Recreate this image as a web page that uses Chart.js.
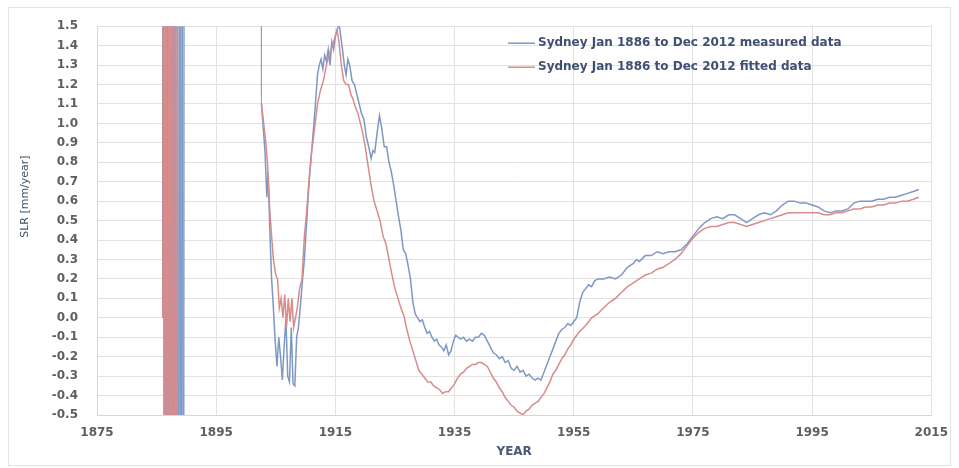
<!DOCTYPE html>
<html>
<head>
<meta charset="utf-8">
<script src="https://cdn.jsdelivr.net/npm/chart.js@4.4.1/dist/chart.umd.min.js"></script>
<style>
  html, body { margin: 0; padding: 0; background: #ffffff; }
  #wrap { position: relative; width: 959px; height: 468px; }
  canvas { display: block; }
</style>
</head>
<body>
<div id="wrap"><canvas id="c" width="959" height="468"></canvas></div>
<script>
// ---- Data ----
const seriesLabels = [
  'Sydney Jan 1886 to Dec 2012 measured data',
  'Sydney Jan 1886 to Dec 2012 fitted data'
];
const yAxisTitle = 'SLR [mm/year]';
const xAxisTitle = 'YEAR';
const xTickYears = [1875, 1895, 1915, 1935, 1955, 1975, 1995, 2015];

// [year, SLR mm/year]; null = no data (gap). Early values are far off-scale.
const measuredSeries = [
  [1886.0, 0.0], [1886.1, 8], [1886.3, -8], [1886.5, 8], [1886.7, -8], [1886.9, 8], [1887.1, -8],
  [1887.3, 8], [1887.5, -8], [1887.7, 8], [1887.9, -8], [1888.1, 8], [1888.3, -8], [1888.5, 8],
  [1888.7, -8], [1888.9, 8], [1889.1, -8], [1889.3, 8], [1889.5, -8], [1889.7, 8],
  [1895.0, null],
  [1902.45, 6], [1902.6, 1.1], [1903.2, 0.85], [1903.5, 0.62], [1903.7, 0.75], [1904.0, 0.45], [1904.3, 0.2],
  [1904.6, 0.05], [1904.9, -0.12], [1905.2, -0.25], [1905.5, -0.1], [1905.8, -0.2], [1906.1, -0.32],
  [1906.4, -0.15], [1906.7, 0.0], [1907.0, -0.3], [1907.3, -0.33], [1907.6, -0.05], [1907.9, -0.34],
  [1908.2, -0.35], [1908.5, -0.1], [1908.8, -0.05], [1909.1, 0.05], [1909.5, 0.2], [1909.8, 0.3],
  [1910.2, 0.5], [1910.6, 0.7], [1911.0, 0.85], [1911.4, 1.0], [1911.7, 1.12], [1912.0, 1.25],
  [1912.3, 1.3], [1912.6, 1.33], [1912.9, 1.28], [1913.2, 1.35], [1913.5, 1.32], [1913.8, 1.38],
  [1914.1, 1.3], [1914.4, 1.42], [1914.7, 1.38], [1915.0, 1.45], [1915.3, 1.48], [1915.6, 1.52],
  [1915.9, 1.45], [1916.2, 1.38], [1916.5, 1.3], [1916.8, 1.25], [1917.1, 1.33], [1917.4, 1.3],
  [1917.8, 1.22], [1918.2, 1.2], [1918.6, 1.15], [1919.0, 1.1], [1919.4, 1.05], [1919.8, 1.02],
  [1920.2, 0.93], [1920.6, 0.88], [1921.0, 0.82], [1921.3, 0.86], [1921.6, 0.85], [1922.0, 0.95],
  [1922.4, 1.04], [1922.8, 0.97], [1923.2, 0.88], [1923.6, 0.88], [1924.0, 0.8], [1924.4, 0.75],
  [1924.8, 0.68], [1925.2, 0.6], [1925.6, 0.52], [1926.0, 0.45], [1926.4, 0.35], [1926.8, 0.33],
  [1927.2, 0.27], [1927.6, 0.2], [1928.0, 0.08], [1928.4, 0.02], [1928.8, 0.0], [1929.2, -0.02],
  [1929.6, -0.01], [1930.0, -0.05], [1930.4, -0.08], [1930.8, -0.07], [1931.2, -0.1], [1931.6, -0.12],
  [1932.0, -0.11], [1932.4, -0.14], [1932.8, -0.15], [1933.2, -0.17], [1933.6, -0.14], [1934.0, -0.19],
  [1934.4, -0.17], [1934.8, -0.12], [1935.2, -0.09], [1935.6, -0.1], [1936.0, -0.11], [1936.5, -0.1],
  [1937.0, -0.12], [1937.5, -0.11], [1938.0, -0.12], [1938.5, -0.1], [1939.0, -0.1], [1939.5, -0.08],
  [1940.0, -0.09], [1940.5, -0.12], [1941.0, -0.15], [1941.5, -0.18], [1942.0, -0.19], [1942.5, -0.21],
  [1943.0, -0.2], [1943.5, -0.23], [1944.0, -0.22], [1944.5, -0.26], [1945.0, -0.27], [1945.5, -0.25],
  [1946.0, -0.28], [1946.5, -0.27], [1947.0, -0.3], [1947.5, -0.29], [1948.0, -0.31], [1948.5, -0.32],
  [1949.0, -0.31], [1949.5, -0.32], [1950.0, -0.28], [1950.5, -0.24], [1951.0, -0.2], [1951.5, -0.16],
  [1952.0, -0.12], [1952.5, -0.08], [1953.0, -0.06], [1953.5, -0.05], [1954.0, -0.03], [1954.5, -0.04],
  [1955.0, -0.02], [1955.5, 0.0], [1956.0, 0.08], [1956.5, 0.13], [1957.0, 0.15], [1957.5, 0.17],
  [1958.0, 0.16], [1958.5, 0.19], [1959.0, 0.2], [1960.0, 0.2], [1961.0, 0.21], [1962.0, 0.2],
  [1963.0, 0.22], [1964.0, 0.26], [1965.0, 0.28], [1965.5, 0.3], [1966.0, 0.29], [1967.0, 0.32],
  [1968.0, 0.32], [1969.0, 0.34], [1970.0, 0.33], [1971.0, 0.34], [1972.0, 0.34], [1973.0, 0.35],
  [1974.0, 0.38], [1975.0, 0.42], [1976.0, 0.46], [1977.0, 0.49], [1978.0, 0.51], [1979.0, 0.52],
  [1980.0, 0.51], [1981.0, 0.53], [1982.0, 0.53], [1983.0, 0.51], [1984.0, 0.49], [1985.0, 0.51],
  [1986.0, 0.53], [1987.0, 0.54], [1988.0, 0.53], [1989.0, 0.55], [1990.0, 0.58], [1991.0, 0.6],
  [1992.0, 0.6], [1993.0, 0.59], [1994.0, 0.59], [1995.0, 0.58], [1996.0, 0.57], [1997.0, 0.55],
  [1998.0, 0.54], [1999.0, 0.55], [2000.0, 0.55], [2001.0, 0.56], [2002.0, 0.59], [2003.0, 0.6],
  [2004.0, 0.6], [2005.0, 0.6], [2006.0, 0.61], [2007.0, 0.61], [2008.0, 0.62], [2009.0, 0.62],
  [2010.0, 0.63], [2011.0, 0.64], [2012.0, 0.65], [2012.9, 0.66]
];

const fittedSeries = [
  [1886.0, 0.0], [1886.2, 8], [1886.4, -8], [1886.6, 8], [1886.8, -8], [1887.0, 8], [1887.2, -8],
  [1887.4, 8], [1887.6, -8], [1887.8, 8], [1888.0, -8], [1888.2, 8], [1888.4, -8], [1888.6, 8],
  [1895.0, null],
  [1902.45, 6], [1902.6, 1.1], [1903.3, 0.91], [1903.6, 0.8], [1904.0, 0.55], [1904.3, 0.42], [1904.6, 0.3],
  [1905.0, 0.22], [1905.3, 0.2], [1905.6, 0.05], [1905.9, 0.1], [1906.2, 0.0], [1906.5, 0.12],
  [1906.8, -0.05], [1907.1, 0.1], [1907.4, -0.02], [1907.7, 0.1], [1908.0, -0.05], [1908.3, 0.0],
  [1908.6, 0.05], [1909.0, 0.15], [1909.4, 0.2], [1909.8, 0.42], [1910.2, 0.55], [1910.6, 0.72],
  [1911.0, 0.85], [1911.5, 0.97], [1912.0, 1.1], [1912.5, 1.17], [1913.0, 1.22], [1913.5, 1.3],
  [1914.0, 1.36], [1914.5, 1.4], [1915.0, 1.45], [1915.3, 1.48], [1915.6, 1.42], [1916.0, 1.3],
  [1916.4, 1.22], [1916.8, 1.2], [1917.2, 1.2], [1917.6, 1.15], [1918.0, 1.12], [1918.4, 1.08],
  [1918.8, 1.05], [1919.2, 1.0], [1919.6, 0.95], [1920.0, 0.88], [1920.5, 0.78], [1921.0, 0.68],
  [1921.5, 0.6], [1922.0, 0.55], [1922.5, 0.5], [1923.0, 0.42], [1923.5, 0.38], [1924.0, 0.3],
  [1924.5, 0.22], [1925.0, 0.15], [1925.5, 0.1], [1926.0, 0.05], [1926.5, 0.01], [1927.0, -0.06],
  [1927.5, -0.12], [1928.0, -0.17], [1928.5, -0.22], [1929.0, -0.27], [1929.5, -0.29], [1930.0, -0.31],
  [1930.5, -0.33], [1931.0, -0.33], [1931.5, -0.35], [1932.0, -0.36], [1932.5, -0.37], [1933.0, -0.39],
  [1933.5, -0.38], [1934.0, -0.38], [1934.5, -0.36], [1935.0, -0.34], [1935.5, -0.31], [1936.0, -0.29],
  [1936.5, -0.28], [1937.0, -0.26], [1937.5, -0.25], [1938.0, -0.24], [1938.5, -0.24], [1939.0, -0.23],
  [1939.5, -0.23], [1940.0, -0.24], [1940.5, -0.25], [1941.0, -0.28], [1941.5, -0.31], [1942.0, -0.33],
  [1942.5, -0.36], [1943.0, -0.38], [1943.5, -0.41], [1944.0, -0.43], [1944.5, -0.45], [1945.0, -0.46],
  [1945.5, -0.48], [1946.0, -0.49], [1946.5, -0.5], [1947.0, -0.48], [1947.5, -0.47], [1948.0, -0.45],
  [1948.5, -0.44], [1949.0, -0.43], [1949.5, -0.41], [1950.0, -0.39], [1950.5, -0.36], [1951.0, -0.33],
  [1951.5, -0.29], [1952.0, -0.27], [1952.5, -0.24], [1953.0, -0.21], [1953.5, -0.19], [1954.0, -0.16],
  [1954.5, -0.14], [1955.0, -0.11], [1955.5, -0.09], [1956.0, -0.07], [1957.0, -0.04], [1958.0, 0.0],
  [1959.0, 0.02], [1960.0, 0.05], [1961.0, 0.08], [1962.0, 0.1], [1963.0, 0.13], [1964.0, 0.16],
  [1965.0, 0.18], [1966.0, 0.2], [1967.0, 0.22], [1968.0, 0.23], [1969.0, 0.25], [1970.0, 0.26],
  [1971.0, 0.28], [1972.0, 0.3], [1973.0, 0.33], [1974.0, 0.37], [1975.0, 0.41], [1976.0, 0.44],
  [1977.0, 0.46], [1978.0, 0.47], [1979.0, 0.47], [1980.0, 0.48], [1981.0, 0.49], [1982.0, 0.49],
  [1983.0, 0.48], [1984.0, 0.47], [1985.0, 0.48], [1986.0, 0.49], [1987.0, 0.5], [1988.0, 0.51],
  [1989.0, 0.52], [1990.0, 0.53], [1991.0, 0.54], [1992.0, 0.54], [1993.0, 0.54], [1994.0, 0.54],
  [1995.0, 0.54], [1996.0, 0.54], [1997.0, 0.53], [1998.0, 0.53], [1999.0, 0.54], [2000.0, 0.54],
  [2001.0, 0.55], [2002.0, 0.56], [2003.0, 0.56], [2004.0, 0.57], [2005.0, 0.57], [2006.0, 0.58],
  [2007.0, 0.58], [2008.0, 0.59], [2009.0, 0.59], [2010.0, 0.6], [2011.0, 0.6], [2012.0, 0.61],
  [2012.9, 0.62]
];

// ---- Styling ----
const COLORS = { measured: '#7e98c6', fitted: '#d98b8b' };
const FONT = '"DejaVu Sans", Verdana, sans-serif';

const toXY = s => s.map(p => ({ x: p[0], y: p[1] }));
// very steep off-scale swings are drawn with a thinner stroke so both series show through
const segWidth = c => (Math.abs(c.p1.parsed.y - c.p0.parsed.y) > 3 ? 1.1 : 1.5);

const framePlugin = {
  id: 'frame',
  beforeDraw(chart) {
    const ctx = chart.ctx;
    ctx.save();
    ctx.fillStyle = '#ffffff';
    ctx.fillRect(0, 0, chart.width, chart.height);
    ctx.strokeStyle = '#e4e4e4';
    ctx.lineWidth = 1;
    ctx.strokeRect(8.5, 7.5, 942, 458);
    ctx.restore();
  }
};

// y-axis title, drawn a little above the vertical centre as in the reference
const yTitlePlugin = {
  id: 'yTitle',
  afterDraw(chart) {
    const ctx = chart.ctx;
    const area = chart.chartArea;
    ctx.save();
    ctx.translate(25, (area.top + area.bottom) / 2 - 24);
    ctx.rotate(-Math.PI / 2);
    ctx.fillStyle = '#44546a';
    ctx.font = '11px ' + FONT;
    ctx.textAlign = 'center';
    ctx.textBaseline = 'middle';
    ctx.fillText(yAxisTitle, 0, 0);
    ctx.restore();
  }
};

const insideLegend = {
  id: 'insideLegend',
  afterDraw(chart) {
    const ctx = chart.ctx;
    const area = chart.chartArea;
    chart.data.datasets.forEach((ds, i) => {
      const y = area.top + 17 + i * 24;
      const x0 = area.left + 411;
      ctx.save();
      ctx.strokeStyle = ds.borderColor;
      ctx.lineWidth = 1.5;
      ctx.beginPath();
      ctx.moveTo(x0, y);
      ctx.lineTo(x0 + 27, y);
      ctx.stroke();
      ctx.fillStyle = '#3f4f72';
      ctx.font = 'bold 12px ' + FONT;
      ctx.textBaseline = 'middle';
      ctx.textAlign = 'left';
      ctx.fillText(ds.label, x0 + 30, y);
      ctx.restore();
    });
  }
};

new Chart(document.getElementById('c'), {
  type: 'line',
  data: {
    datasets: [
      {
        label: seriesLabels[0],
        data: toXY(measuredSeries),
        borderColor: COLORS.measured,
        borderWidth: 1.5,
        segment: { borderWidth: segWidth },
        pointRadius: 0,
        tension: 0,
        spanGaps: false,
        fill: false,
        order: 2
      },
      {
        label: seriesLabels[1],
        data: toXY(fittedSeries),
        borderColor: COLORS.fitted,
        borderWidth: 1.5,
        segment: { borderWidth: segWidth },
        pointRadius: 0,
        tension: 0,
        spanGaps: false,
        fill: false,
        order: 1
      }
    ]
  },
  options: {
    responsive: false,
    animation: false,
    events: [],
    layout: { padding: { left: 0, top: 25, right: 22, bottom: 0 } },
    plugins: {
      legend: { display: false },
      tooltip: { enabled: false },
      title: { display: false }
    },
    scales: {
      x: {
        type: 'linear',
        min: 1875,
        max: 2015,
        afterBuildTicks: s => { s.ticks = xTickYears.map(v => ({ value: v })); },
        afterFit: s => { s.height = 53; },
        grid: { color: '#e2e2e2', drawTicks: false, lineWidth: 1 },
        border: { color: '#d3d6dc', width: 1 },
        ticks: {
          autoSkip: false,
          maxRotation: 0,
          padding: 11,
          color: '#5e5e5e',
          font: { family: FONT, size: 12, weight: 'bold' },
          callback: v => String(v)
        },
        title: {
          display: true,
          text: xAxisTitle,
          color: '#4a5a78',
          font: { family: FONT, size: 12, weight: 'bold' },
          padding: { top: 0, bottom: 9 }
        }
      },
      y: {
        type: 'linear',
        min: -0.5,
        max: 1.5,
        afterFit: s => { s.width = 97; },
        grid: { color: '#e2e2e2', drawTicks: false, lineWidth: 1 },
        border: { color: '#cfd8e3', width: 1 },
        ticks: {
          stepSize: 0.1,
          autoSkip: false,
          padding: 19,
          color: '#5e5e5e',
          font: { family: FONT, size: 12, weight: 'bold' },
          callback: v => {
            const r = Math.round(v * 10) / 10;
            return (r === 0 ? 0 : r).toFixed(1);
          }
        },
        title: { display: false }
      }
    }
  },
  plugins: [framePlugin, yTitlePlugin, insideLegend]
});
</script>
</body>
</html>
